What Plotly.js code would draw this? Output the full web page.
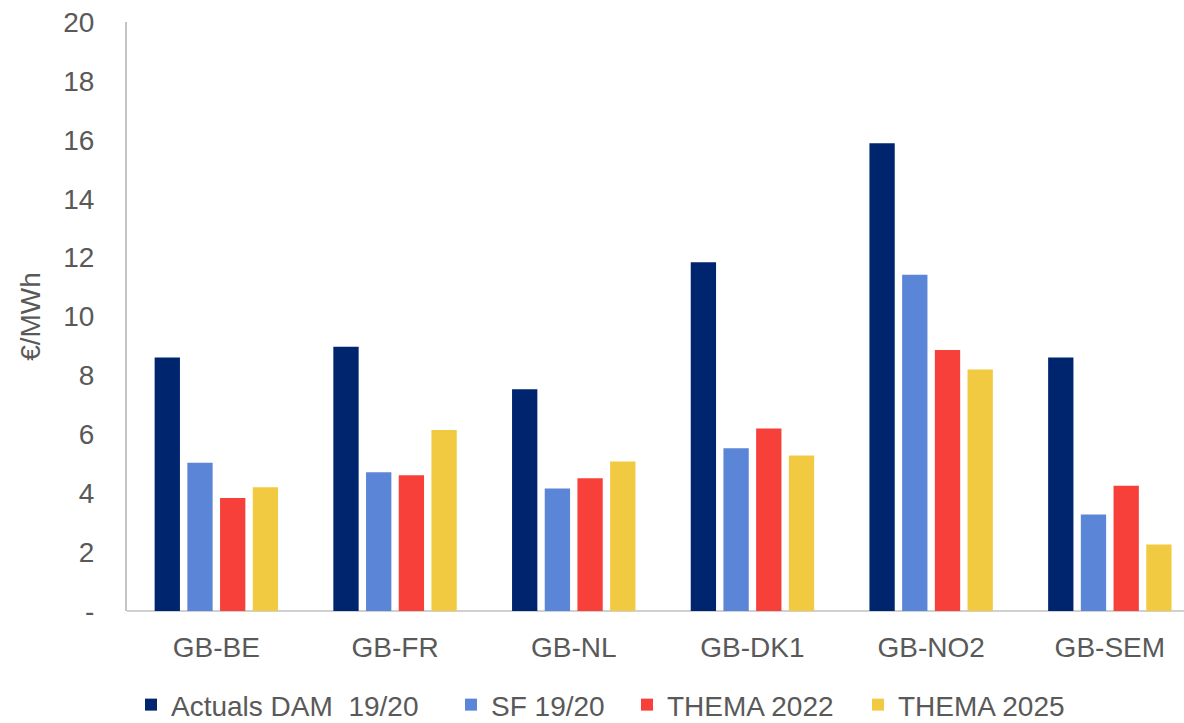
<!DOCTYPE html>
<html>
<head>
<meta charset="utf-8">
<script src="https://cdn.plot.ly/plotly-3.0.1.min.js"></script>
<style>
  html, body { margin: 0; padding: 0; background: #ffffff; }
  #chart { width: 1184px; height: 723px; }
</style>
</head>
<body>
<div id="chart"></div>
<script>
// Interconnector price spreads by border, €/MWh
const borders = ['GB-BE', 'GB-FR', 'GB-NL', 'GB-DK1', 'GB-NO2', 'GB-SEM'];

const actualsDam1920 = [8.61, 8.97, 7.53, 11.84, 15.88, 8.61];
const sf1920         = [5.03, 4.71, 4.16, 5.53, 11.42, 3.28];
const thema2022      = [3.84, 4.61, 4.51, 6.20, 8.86, 4.25];
const thema2025      = [4.20, 6.15, 5.08, 5.28, 8.20, 2.26];

const seriesNames  = ['Actuals DAM\u00a0 19/20', 'SF 19/20', 'THEMA 2022', 'THEMA 2025'];
const seriesColors = ['#00256f', '#5b85d6', '#f7403a', '#f2ca42'];
const seriesValues = [actualsDam1920, sf1920, thema2022, thema2025];

const yTickVals = [0, 2, 4, 6, 8, 10, 12, 14, 16, 18, 20];
const yTickText = ['-', '2', '4', '6', '8', '10', '12', '14', '16', '18', '20'];

const textGrey = '#595959';
const fontFamily = 'Liberation Sans, Arial, sans-serif';
const fontSize = 28;

// one legend box per series so each key sits at its own spot along the bottom row
const legendIds = ['legend', 'legend2', 'legend3', 'legend4'];
const legendLeft = [131, 451, 627, 858];

const traces = seriesValues.map((vals, i) => ({
  type: 'bar',
  name: seriesNames[i],
  x: borders,
  y: vals,
  legend: legendIds[i],
  marker: { color: seriesColors[i], line: { width: 0 } },
  hoverinfo: 'x+y+name'
}));

const layout = {
  width: 1184,
  height: 723,
  paper_bgcolor: '#ffffff',
  plot_bgcolor: '#ffffff',
  margin: { l: 127, r: 0, t: 22, b: 112, pad: 0 },
  barmode: 'group',
  bargap: 0.268,
  bargroupgap: 0.226,
  font: { family: fontFamily, size: fontSize, color: textGrey },
  xaxis: {
    type: 'category',
    range: [-0.5, 5.415],
    showgrid: false,
    zeroline: false,
    showline: false,
    ticks: '',
    ticklabelstandoff: 17,
    tickfont: { family: fontFamily, size: fontSize, color: textGrey },
    fixedrange: true
  },
  yaxis: {
    range: [0, 20],
    tickvals: yTickVals,
    ticktext: yTickText,
    showgrid: false,
    zeroline: true,
    zerolinecolor: '#d0d0d0',
    zerolinewidth: 2,
    showline: true,
    linecolor: '#c4c4c4',
    linewidth: 2,
    ticks: '',
    ticklabelstandoff: 25,
    tickfont: { family: fontFamily, size: fontSize, color: textGrey },
    title: { text: '€/MWh', font: { family: fontFamily, size: fontSize, color: textGrey }, standoff: 14 },
    fixedrange: true
  },
  showlegend: true
};

legendIds.forEach((id, i) => {
  layout[id] = {
    orientation: 'h',
    xref: 'container',
    yref: 'container',
    x: legendLeft[i] / 1184,
    xanchor: 'left',
    y: 0.025,
    yanchor: 'middle',
    font: { family: fontFamily, size: fontSize, color: textGrey },
    bgcolor: 'rgba(0,0,0,0)',
    itemclick: false,
    itemdoubleclick: false
  };
});

Plotly.newPlot('chart', traces, layout, { displayModeBar: false, staticPlot: true });
</script>
</body>
</html>
